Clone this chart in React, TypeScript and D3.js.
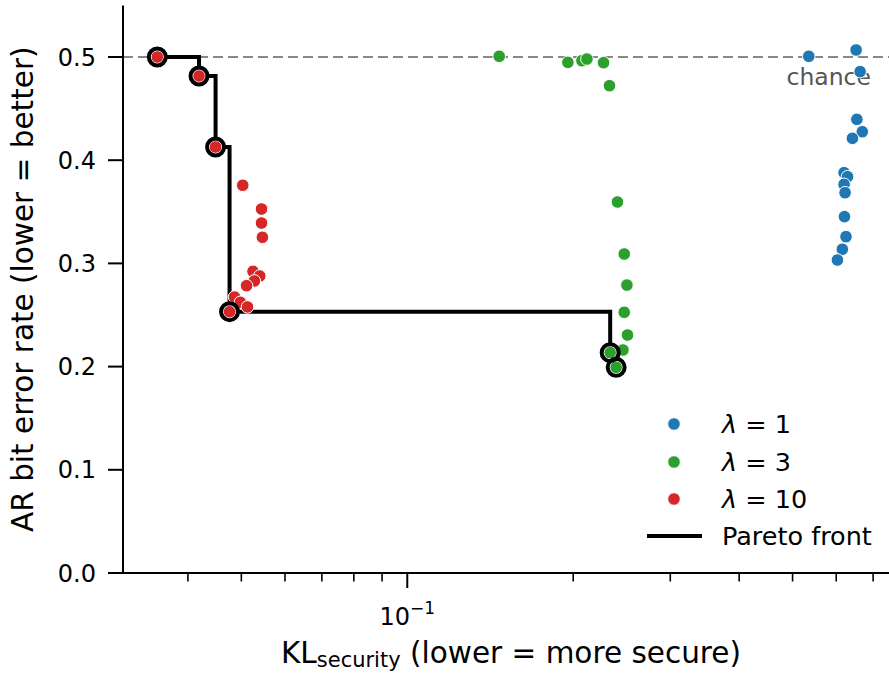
import React, { useEffect, useRef } from 'react';
import * as d3 from 'd3';

// lambda = 1
const lam1KL = [0.535, 0.652, 0.663, 0.654, 0.669, 0.642, 0.62, 0.629, 0.62, 0.6226, 0.621, 0.625, 0.6155, 0.603];
const lam1BER = [0.5007, 0.5068, 0.4858, 0.4396, 0.4276, 0.4212, 0.3879, 0.384, 0.3766, 0.3685, 0.3453, 0.3259, 0.3137, 0.3033];
// lambda = 3
const lam3KL = [0.1468, 0.1956, 0.2074, 0.2118, 0.227, 0.2327, 0.2406, 0.2475, 0.2503, 0.2475, 0.2509, 0.2462, 0.2334, 0.2393];
const lam3BER = [0.5007, 0.4948, 0.4964, 0.498, 0.4945, 0.4722, 0.3595, 0.3091, 0.279, 0.2526, 0.2306, 0.2161, 0.2135, 0.1993];
// lambda = 10
const lam10KL = [0.0352, 0.0419, 0.0449, 0.0503, 0.0544, 0.0544, 0.0546, 0.0525, 0.054, 0.0528, 0.0511, 0.0486, 0.0498, 0.0513, 0.0476];
const lam10BER = [0.5, 0.4816, 0.4128, 0.3757, 0.3527, 0.3391, 0.3253, 0.2923, 0.2878, 0.283, 0.2784, 0.2674, 0.2623, 0.2578, 0.2532];

const seriesNames = ['1', '3', '10'];
const seriesColors = ['#1f77b4', '#2ca02c', '#d62728'];
const yTicks = [0.0, 0.1, 0.2, 0.3, 0.4, 0.5];
const chanceLevel = 0.5;

const FONT = 'DejaVu Sans, sans-serif';

type Pt = { x: number; y: number; s: number };

const App = () => {
  const svgRef = useRef<SVGSVGElement>(null);

  useEffect(() => {
    const width = 889;
    const height = 674;
    const svg = d3.select(svgRef.current).attr('width', width).attr('height', height);
    svg.selectAll('*').remove();

    const left = 123, right = 889, top = 5.4, bottom = 573;

    const x = d3.scaleLog().domain([0.0305, 0.748]).range([left, right]);
    const y = d3.scaleLinear().domain([0, 0.55]).range([bottom, top]);

    const series = [
      lam1KL.map((v, i) => ({ x: v, y: lam1BER[i], s: 0 })),
      lam3KL.map((v, i) => ({ x: v, y: lam3BER[i], s: 1 })),
      lam10KL.map((v, i) => ({ x: v, y: lam10BER[i], s: 2 })),
    ];
    const all: Pt[] = series.flat();

    // Pareto front: non-dominated points (lower KL, lower BER)
    const sorted = [...all].sort((a, b) => a.x - b.x);
    const pareto: Pt[] = [];
    let best = Infinity;
    sorted.forEach(p => {
      if (p.y < best) {
        pareto.push(p);
        best = p.y;
      }
    });

    // chance line
    svg.append('line')
      .attr('x1', left).attr('x2', right)
      .attr('y1', y(chanceLevel)).attr('y2', y(chanceLevel))
      .attr('stroke', '#888').attr('stroke-width', 2)
      .attr('stroke-dasharray', '10,5');

    svg.append('text')
      .attr('x', 871).attr('y', 85)
      .attr('text-anchor', 'end')
      .attr('font-family', FONT).attr('font-size', 23.5)
      .attr('fill', '#555')
      .text('chance');

    // pareto step line
    const line = d3.line<Pt>().x(d => x(d.x)).y(d => y(d.y)).curve(d3.curveStepAfter);
    svg.append('path')
      .attr('d', line(pareto))
      .attr('fill', 'none')
      .attr('stroke', 'black')
      .attr('stroke-width', 4);

    // scatter points
    series.forEach((pts, si) => {
      svg.append('g')
        .selectAll('circle')
        .data(pts)
        .enter()
        .append('circle')
        .attr('cx', d => x(d.x))
        .attr('cy', d => y(d.y))
        .attr('r', 6.3)
        .attr('fill', seriesColors[si])
        .attr('stroke', 'white')
        .attr('stroke-width', 1);
    });

    // pareto rings
    svg.append('g')
      .selectAll('circle')
      .data(pareto)
      .enter()
      .append('circle')
      .attr('cx', d => x(d.x))
      .attr('cy', d => y(d.y))
      .attr('r', 8.5)
      .attr('fill', 'none')
      .attr('stroke', 'black')
      .attr('stroke-width', 4);

    // axes spines
    svg.append('line')
      .attr('x1', left).attr('x2', left).attr('y1', top).attr('y2', bottom)
      .attr('stroke', 'black').attr('stroke-width', 2);
    svg.append('line')
      .attr('x1', left).attr('x2', right).attr('y1', bottom).attr('y2', bottom)
      .attr('stroke', 'black').attr('stroke-width', 2);

    // y ticks
    const yt = svg.append('g');
    yTicks.forEach(t => {
      yt.append('line')
        .attr('x1', left - 15).attr('x2', left)
        .attr('y1', y(t)).attr('y2', y(t))
        .attr('stroke', 'black').attr('stroke-width', 2);
      yt.append('text')
        .attr('x', left - 27).attr('y', y(t))
        .attr('dy', '0.36em')
        .attr('text-anchor', 'end')
        .attr('font-family', FONT).attr('font-size', 24)
        .text(d3.format('.1f')(t));
    });

    // x ticks (log)
    const xt = svg.append('g');
    x.ticks().forEach(t => {
      const major = Math.abs(Math.log10(t) - Math.round(Math.log10(t))) < 1e-9;
      xt.append('line')
        .attr('x1', x(t)).attr('x2', x(t))
        .attr('y1', bottom).attr('y2', bottom + (major ? 15 : 8.5))
        .attr('stroke', 'black').attr('stroke-width', major ? 2 : 1.6);
      if (major) {
        const lbl = xt.append('text')
          .attr('x', x(t)).attr('y', 625)
          .attr('text-anchor', 'middle')
          .attr('font-family', FONT).attr('font-size', 24);
        lbl.append('tspan').text('10');
        lbl.append('tspan')
          .attr('dy', -11).attr('font-size', 17)
          .text('\u2212' + Math.round(-Math.log10(t)));
      }
    });

    // axis labels
    const xl = svg.append('text')
      .attr('x', (280 + 742) / 2).attr('y', 663)
      .attr('text-anchor', 'middle')
      .attr('font-family', FONT).attr('font-size', 29.5);
    xl.append('tspan').text('KL');
    xl.append('tspan').attr('font-size', 21).attr('dy', 4).text('security');
    xl.append('tspan').attr('dy', -4).text(' (lower = more secure)');

    svg.append('text')
      .attr('transform', `translate(33, ${(top + bottom) / 2}) rotate(-90)`)
      .attr('text-anchor', 'middle')
      .attr('font-family', FONT).attr('font-size', 29.5)
      .text('AR bit error rate (lower = better)');

    // legend
    const leg = svg.append('g');
    const rowY = [424, 462, 499];
    seriesNames.forEach((name, i) => {
      leg.append('circle')
        .attr('cx', 674).attr('cy', rowY[i]).attr('r', 6.3)
        .attr('fill', seriesColors[i]).attr('stroke', 'white').attr('stroke-width', 1);
      const t = leg.append('text')
        .attr('x', 722).attr('y', rowY[i]).attr('dy', '0.36em')
        .attr('font-family', FONT).attr('font-size', 25.5);
      t.append('tspan').attr('font-style', 'italic').text('\u03bb');
      t.append('tspan').text(' = ' + name);
    });
    leg.append('line')
      .attr('x1', 647).attr('x2', 702).attr('y1', 536).attr('y2', 536)
      .attr('stroke', 'black').attr('stroke-width', 4);
    leg.append('text')
      .attr('x', 722).attr('y', 536).attr('dy', '0.36em')
      .attr('font-family', FONT).attr('font-size', 25.5)
      .text('Pareto front');
  }, []);

  return (
    <div style={{ position: 'absolute', left: 0, top: 0 }}>
      <svg ref={svgRef} style={{ display: 'block' }}></svg>
    </div>
  );
};

export default App;
